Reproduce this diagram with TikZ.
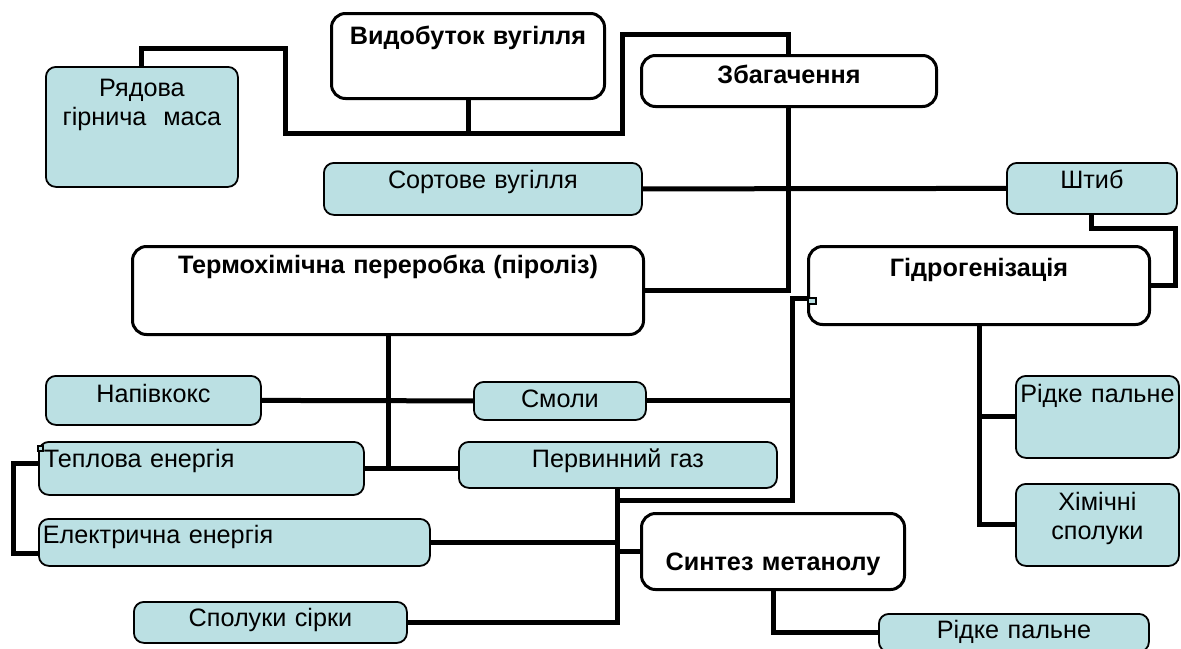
\documentclass[tikz,border=0pt]{standalone}
\usepackage{fontspec}
\setmainfont{Liberation Sans}
\definecolor{boxblue}{RGB}{187,224,227}
\pgfdeclarelayer{background}
\pgfsetlayers{background,main}
\tikzset{
  conn/.style={line width=2.5pt},
  mainbox/.style={draw, line width=1.5pt, rounded corners=7pt, fill=white,
    font=\fontsize{12.6pt}{14.5pt}\selectfont\bfseries, inner sep=0pt,
    anchor=north west, align=center},
  subbox/.style={draw, line width=0.9pt, rounded corners=5pt, fill=boxblue,
    font=\fontsize{12.6pt}{14.5pt}\selectfont, inner sep=0pt,
    anchor=north west, align=center},
}
\begin{document}
\begin{tikzpicture}[x=0.5pt, y=-0.5pt]
\useasboundingbox (0,0) rectangle (1181,648);
% main steps
\node[mainbox, text width=136.5pt, text height=15.5pt, text depth=27pt] (vyd) at (330,12) {Видобуток вугілля};
\node[mainbox, text width=147.5pt, text height=14pt, text depth=11.5pt] (zbag) at (640,54) {Збагачення};
\node[mainbox, text width=255.5pt, text height=13.5pt, text depth=30.5pt] (termo) at (131,245) {Термохімічна переробка (піроліз)};
\node[mainbox, text width=170.5pt, text height=15pt, text depth=24pt] (hydro) at (807,245) {Гідрогенізація};
\node[mainbox, text width=131.5pt, text height=28.5pt, text depth=9.5pt] (syntez) at (640,512) {Синтез метанолу};
% products
\node[subbox, text width=96pt, text height=15pt, text depth=45pt] (ryad) at (45,66) {Рядова\\гірнича\ \ маса};
\node[subbox, text width=159pt, text height=13pt, text depth=13pt] (sort) at (323,162) {Сортове вугілля};
\node[subbox, text width=85pt, text height=13pt, text depth=12.5pt] (shtyb) at (1006,162) {Штиб};
\node[subbox, text width=107.5pt, text height=13.5pt, text depth=11pt] (napiv) at (45,375) {Напівкокс};
\node[subbox, text width=86pt, text height=13pt, text depth=6pt] (smoly) at (473,381) {Смоли};
\node[subbox, align=left, inner xsep=2.5pt, text width=157.5pt, text height=13pt, text depth=13.5pt] (teplo) at (38,441) {Теплова енергія};
\node[subbox, text width=159pt, text height=13pt, text depth=10pt] (pervyn) at (458,441) {Первинний газ};
\node[subbox, align=left, inner xsep=2pt, text width=191.5pt, text height=12.5pt, text depth=11pt] (elek) at (38,518) {Електрична енергія};
\node[subbox, text width=136.5pt, text height=12.5pt, text depth=8pt] (sirka) at (133,601) {Сполуки сірки};
\node[subbox, text width=81.5pt, text height=13.5pt, text depth=27.5pt] (ridke1) at (1015,375) {Рідке пальне};
\node[subbox, text width=81.5pt, text height=13.5pt, text depth=27.5pt] (khim) at (1015,483) {Хімічні\\сполуки};
\node[subbox, text width=135pt, text height=12.5pt, text depth=6.5pt] (ridke2) at (878,613) {Рідке пальне};
\draw[fill=boxblue, line width=0.6pt] (38,446) rectangle (43,451);
\draw[fill=boxblue, line width=0.6pt] (808,298) rectangle (816,304);
% connectors
\begin{pgfonlayer}{background}
\draw[conn] (ryad.north) |- (285,48) |- (622,133) |- (788,34) |- (termo.east);
\draw[conn] (vyd.south) -- (vyd.south |- 0,133);
\draw[conn] (sort.east) -- (shtyb.west);
\draw[conn] (shtyb.south) |- (1175,228) |- (hydro.east);
\draw[conn] (hydro.west |- 0,298) -| (792,500) -| (pervyn.south);
\draw[conn] (smoly.east) -- (smoly.east -| 792,0);
\draw[conn] (napiv.east) -- (smoly.west);
\draw[conn] (termo.south) -- (termo.south |- teplo.east);
\draw[conn] (teplo.east) -- (teplo.east -| pervyn.west);
\draw[conn] (teplo.west |- 0,463) -| (13,553) -- (elek.west |- 0,553);
\draw[conn] (pervyn.south) |- (sirka.east);
\draw[conn] (elek.east) -- (elek.east -| pervyn.south);
\draw[conn] (syntez.west) -- (syntez.west -| pervyn.south);
\draw[conn] (syntez.south) |- (ridke2.west);
\draw[conn] (hydro.south) |- (ridke1.west);
\draw[conn] (hydro.south) |- (khim.west);
\end{pgfonlayer}
\end{tikzpicture}
\end{document}
